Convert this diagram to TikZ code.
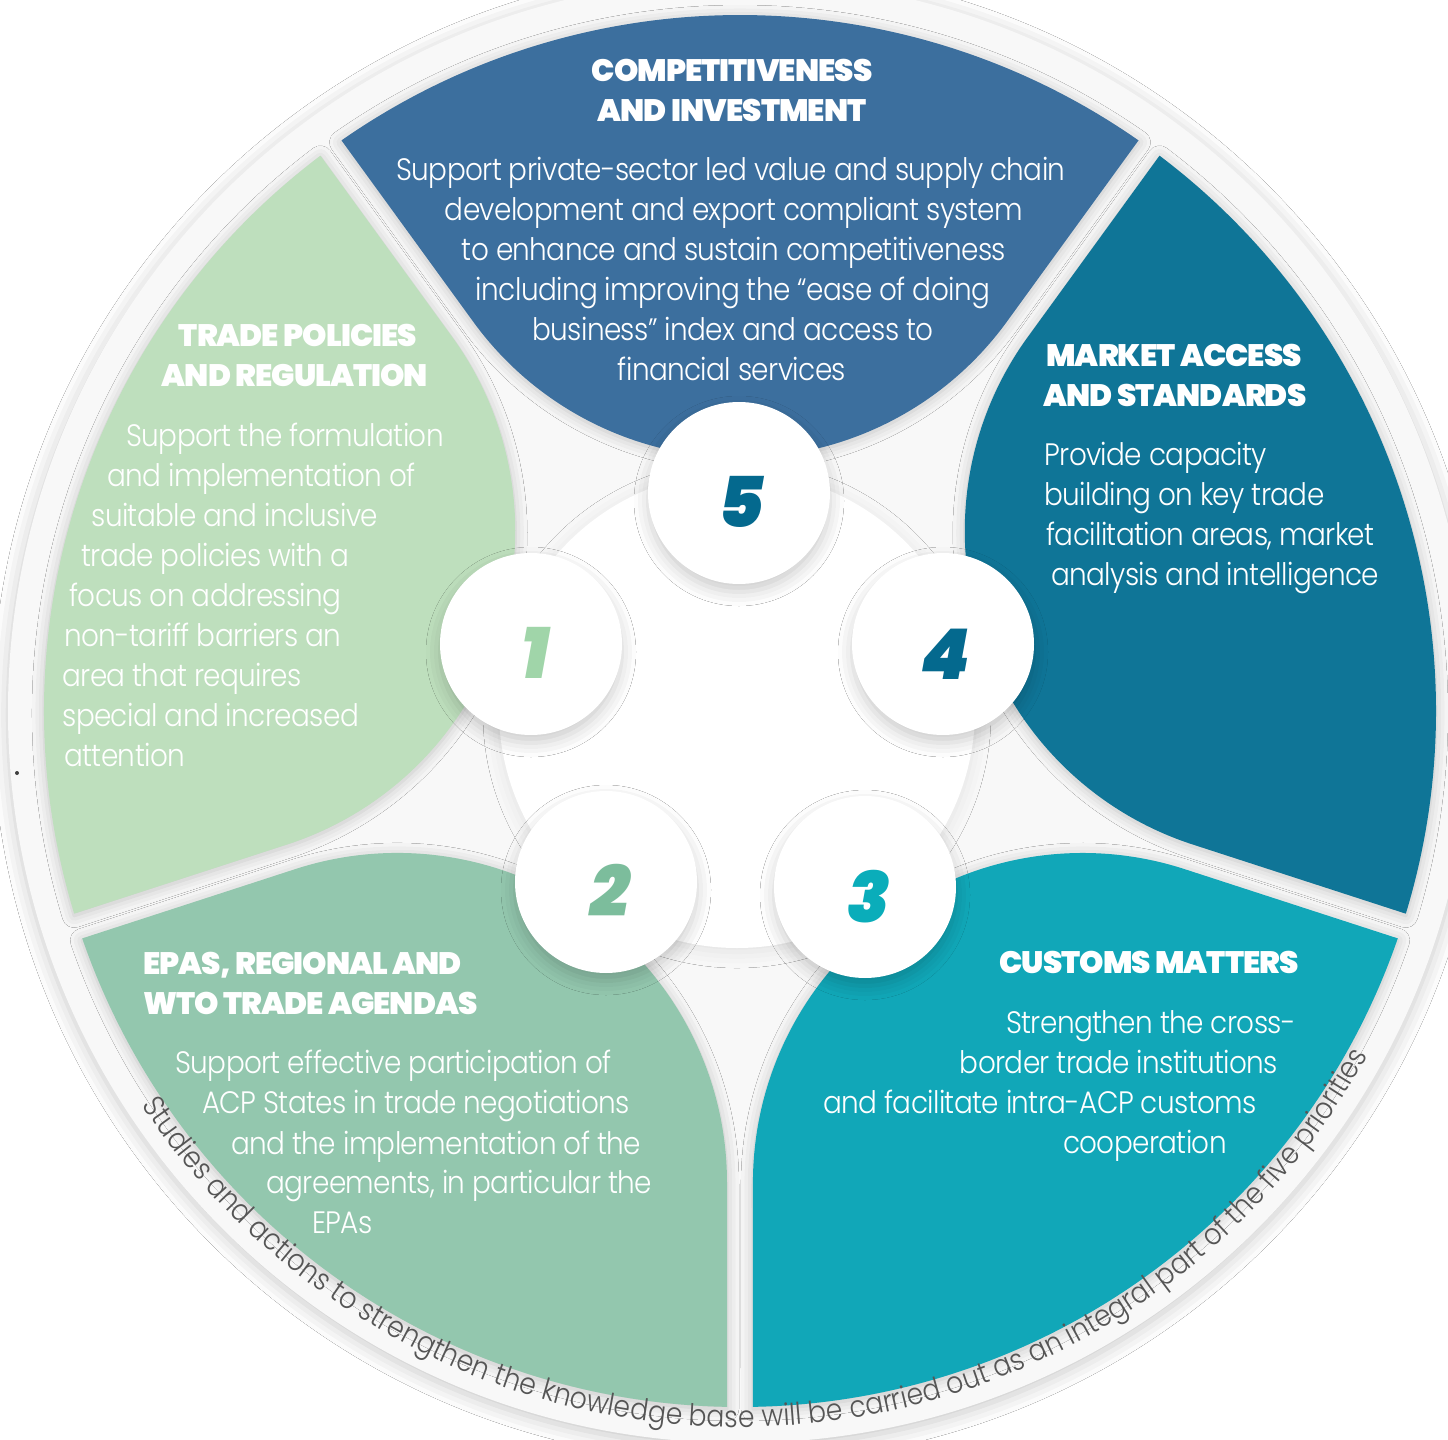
\documentclass[tikz,border=0pt]{standalone}
\usepackage{fontspec}
\setmainfont{Poppins Light}[FakeStretch=0.9, LetterSpace=-2]
\newfontfamily\ringfont{Poppins Light}[FakeStretch=0.89]
\newfontfamily\titlefont{Poppins Black}[LetterSpace=-3]
\newfontfamily\numfont{Poppins Black}[FakeSlant=0.18]
\usetikzlibrary{shadows.blur,decorations.text}
\definecolor{cBlue}{HTML}{3C6F9E}
\definecolor{cDeep}{HTML}{0F7597}
\definecolor{cTeal}{HTML}{11A7B8}
\definecolor{cSage}{HTML}{93C7AE}
\definecolor{cLight}{HTML}{BEDFBD}
\definecolor{nOne}{HTML}{A0D5A9}
\definecolor{nTwo}{HTML}{7CBD9C}
\definecolor{nThree}{HTML}{0AADBA}
\definecolor{nDeep}{HTML}{04698E}
\definecolor{ringtext}{HTML}{555555}
\definecolor{outerfill}{HTML}{F8F8F8}
\newcommand\drawpetal[2]{%
  \fill[#2,rotate=#1,petalshade] (124.93:696) -- (-266.7,389.2)
     arc[start angle=216, end angle=324, radius=329.7] -- (55.07:696)
     arc[start angle=55.07, end angle=124.93, radius=696] -- cycle;}
\begin{document}
\begin{tikzpicture}[x=0.5pt,y=0.5pt,
  petalshade/.style={blur shadow={shadow xshift=0pt, shadow yshift=-1pt, shadow blur radius=6pt, shadow opacity=22}},
  titletext/.style={text=white, font=\titlefont\fontsize{15.5}{20}\selectfont, inner sep=0pt},
  bodytext/.style={text=white, font=\fontsize{15.5}{20}\selectfont, inner sep=0pt},
  numc/.style={circle, fill=white, minimum size=91pt, inner sep=0pt,
     blur shadow={shadow xshift=0pt, shadow yshift=-4pt, shadow blur radius=7pt, shadow opacity=20}},
  numtxt/.style={font=\numfont\fontsize{35}{40}\selectfont, inner sep=0pt}]
\path[fill=white] (0,0) rectangle (1448,-1440);
\useasboundingbox (0,0) rectangle (1448,-1440);

\begin{scope}[shift={(740,-711)}]
  \fill[outerfill, blur shadow={shadow xshift=0pt, shadow yshift=-2pt, shadow blur radius=8pt, shadow opacity=22}] (0,0) circle[radius=732];
  \drawpetal{0}{cBlue}
  \drawpetal{-72}{cDeep}
  \drawpetal{-144}{cTeal}
  \drawpetal{144}{cSage}
  \drawpetal{72}{cLight}
  \fill[white, blur shadow={shadow xshift=0pt, shadow yshift=-2pt, shadow blur radius=8pt, shadow opacity=9}] (-3,1) circle[radius=238];
\end{scope}

% number circles
\node[numc] (c5) at (739,-493) {};
\node[numc] (c1) at (531,-644) {};
\node[numc] (c4) at (943,-644) {};
\node[numc] (c2) at (606,-882) {};
\node[numc] (c3) at (865,-887) {};
\node[numtxt, text=nDeep]  (n5) at (738,-502) {5};
\node[numtxt, text=nOne]   (n1) at (531,-653) {1};
\node[numtxt, text=nDeep]  (n4) at (942,-654) {4};
\node[numtxt, text=nTwo]   (n2) at (606,-890) {2};
\node[numtxt, text=nThree] (n3) at (865,-897) {3};

% petal 5
\node[titletext, anchor=base] (h5a) at (732,-81) {COMPETITIVENESS};
\node[titletext, anchor=base] (h5b) at (732,-121) {AND INVESTMENT};
\node[bodytext, anchor=base] (b5a) at (731,-180) {Support private-sector led value and supply chain};
\node[bodytext, anchor=base] (b5b) at (734,-220) {development and export compliant system};
\node[bodytext, anchor=base] (b5c) at (734,-260) {to enhance and sustain competitiveness};
\node[bodytext, anchor=base] (b5d) at (733,-300) {including improving the “ease of doing};
\node[bodytext, anchor=base] (b5e) at (733,-340) {business” index and access to};
\node[bodytext, anchor=base] (b5f) at (732,-380) {financial services};

% petal 1
\node[titletext, anchor=base] (h1a) at (298,-346) {TRADE POLICIES};
\node[titletext, anchor=base] (h1b) at (295,-386) {AND REGULATION};
\node[bodytext, anchor=base west] (b1a) at (126,-446) {Support the formulation};
\node[bodytext, anchor=base west] (b1b) at (107,-486) {and implementation of};
\node[bodytext, anchor=base west] (b1c) at (91,-526) {suitable and inclusive};
\node[bodytext, anchor=base west] (b1d) at (81,-566) {trade policies with a};
\node[bodytext, anchor=base west] (b1e) at (69,-606) {focus on addressing};
\node[bodytext, anchor=base west] (b1f) at (64,-646) {non-tariff barriers an};
\node[bodytext, anchor=base west] (b1g) at (62,-686) {area that requires};
\node[bodytext, anchor=base west] (b1h) at (62,-726) {special and increased};
\node[bodytext, anchor=base west] (b1i) at (64,-766) {attention};

% petal 4
\node[titletext, anchor=base west] (h4a) at (1046,-366) {MARKET ACCESS};
\node[titletext, anchor=base west] (h4b) at (1043,-406) {AND STANDARDS};
\node[bodytext, anchor=base west] (b4a) at (1044,-465) {Provide capacity};
\node[bodytext, anchor=base west] (b4b) at (1044,-505) {building on key trade};
\node[bodytext, anchor=base west] (b4c) at (1046,-545) {facilitation areas, market};
\node[bodytext, anchor=base west] (b4d) at (1051,-585) {analysis and intelligence};

% petal 2
\node[titletext, anchor=base west] (h2a) at (143,-974) {EPAS, REGIONAL AND};
\node[titletext, anchor=base west] (h2b) at (143,-1014) {WTO TRADE AGENDAS};
\node[bodytext, anchor=base west] (b2a) at (175,-1073) {Support effective participation of};
\node[bodytext, anchor=base west] (b2b) at (202,-1113) {ACP States in trade negotiations};
\node[bodytext, anchor=base west] (b2c) at (231,-1154) {and the implementation of the};
\node[bodytext, anchor=base west] (b2d) at (266,-1193) {agreements, in particular the};
\node[bodytext, anchor=base west] (b2e) at (312,-1233) {EPAs};

% petal 3
\node[titletext, anchor=base] (h3a) at (1149,-973) {CUSTOMS MATTERS};
\node[bodytext, anchor=base] (b3a) at (1151,-1033) {Strengthen the cross-};
\node[bodytext, anchor=base] (b3b) at (1119,-1073) {border trade institutions};
\node[bodytext, anchor=base] (b3c) at (1040,-1113) {and facilitate intra-ACP customs};
\node[bodytext, anchor=base] (b3d) at (1145,-1153) {cooperation};

% ring text
\begin{scope}[shift={(740,-711)}]
  \path[decorate, decoration={text along path, text align=center,
     text={|\ringfont\fontsize{15}{18}\selectfont\color{ringtext}|Studies and actions to strengthen the knowledge base will be carried out as an integral part of the five priorities}}]
     (192.3:716) arc[start angle=192.3, end angle=352.3, radius=716];
\end{scope}

\node[circle, fill=black!75, inner sep=0pt, minimum size=2pt] (dot) at (17,-773) {};
\end{tikzpicture}
\end{document}
